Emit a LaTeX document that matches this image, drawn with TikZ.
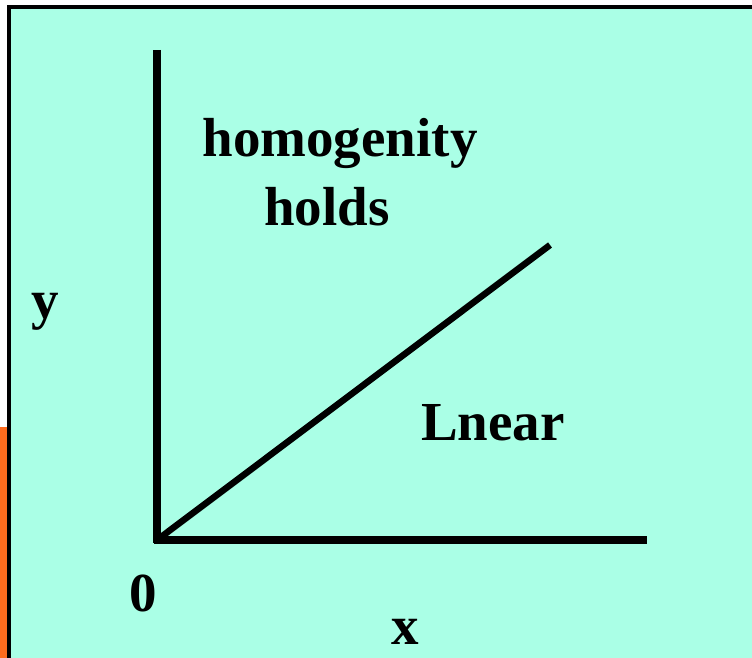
\documentclass[tikz,border=0pt]{standalone}
\usepackage{fontspec}
\setmainfont{Liberation Serif}
\usepackage{tikz}
\usetikzlibrary{positioning, calc}
\definecolor{slidebg}{RGB}{170, 255, 230}
\definecolor{sidebar}{RGB}{255, 108, 30}

\begin{document}
\begin{tikzpicture}[
    x=1pt, y=-1pt,
    slidetext/.style={inner sep=0pt, anchor=base, font=\fontsize{55}{60}\selectfont\bfseries},
    axis/.style={line width=7.5pt, black},
    graph/.style={line width=6.5pt, black}
]
    \useasboundingbox (0,0) rectangle (752,658);
    \clip (0,0) rectangle (752,658);
    % slide background
    \fill[sidebar] (0,427) rectangle (9,670);
    \draw[line width=3.5pt, fill=slidebg] (9,7) rectangle (770,680);

    \coordinate (origin) at (157,540);
    \coordinate (ytop) at (157,50);
    \coordinate (xend) at (647,540);
    \coordinate (lineend) at (550,245);

    \draw[axis] (ytop) -- (157,543);
    \draw[axis] (154,540) -- (xend);
    \draw[graph] (origin) -- (lineend);

    \node (homog) [slidetext] at (340,157) {homogenity};
    \node (holds) [slidetext] at (327,225) {holds};
    \node (ylab) [slidetext] at (45,318) {y};
    \node (lnear) [slidetext] at (493,440) {Lnear};
    \node (zero) [slidetext] at (143,611) {0};
    \node (xlab) [slidetext] at (405,644) {x};
\end{tikzpicture}
\end{document}
